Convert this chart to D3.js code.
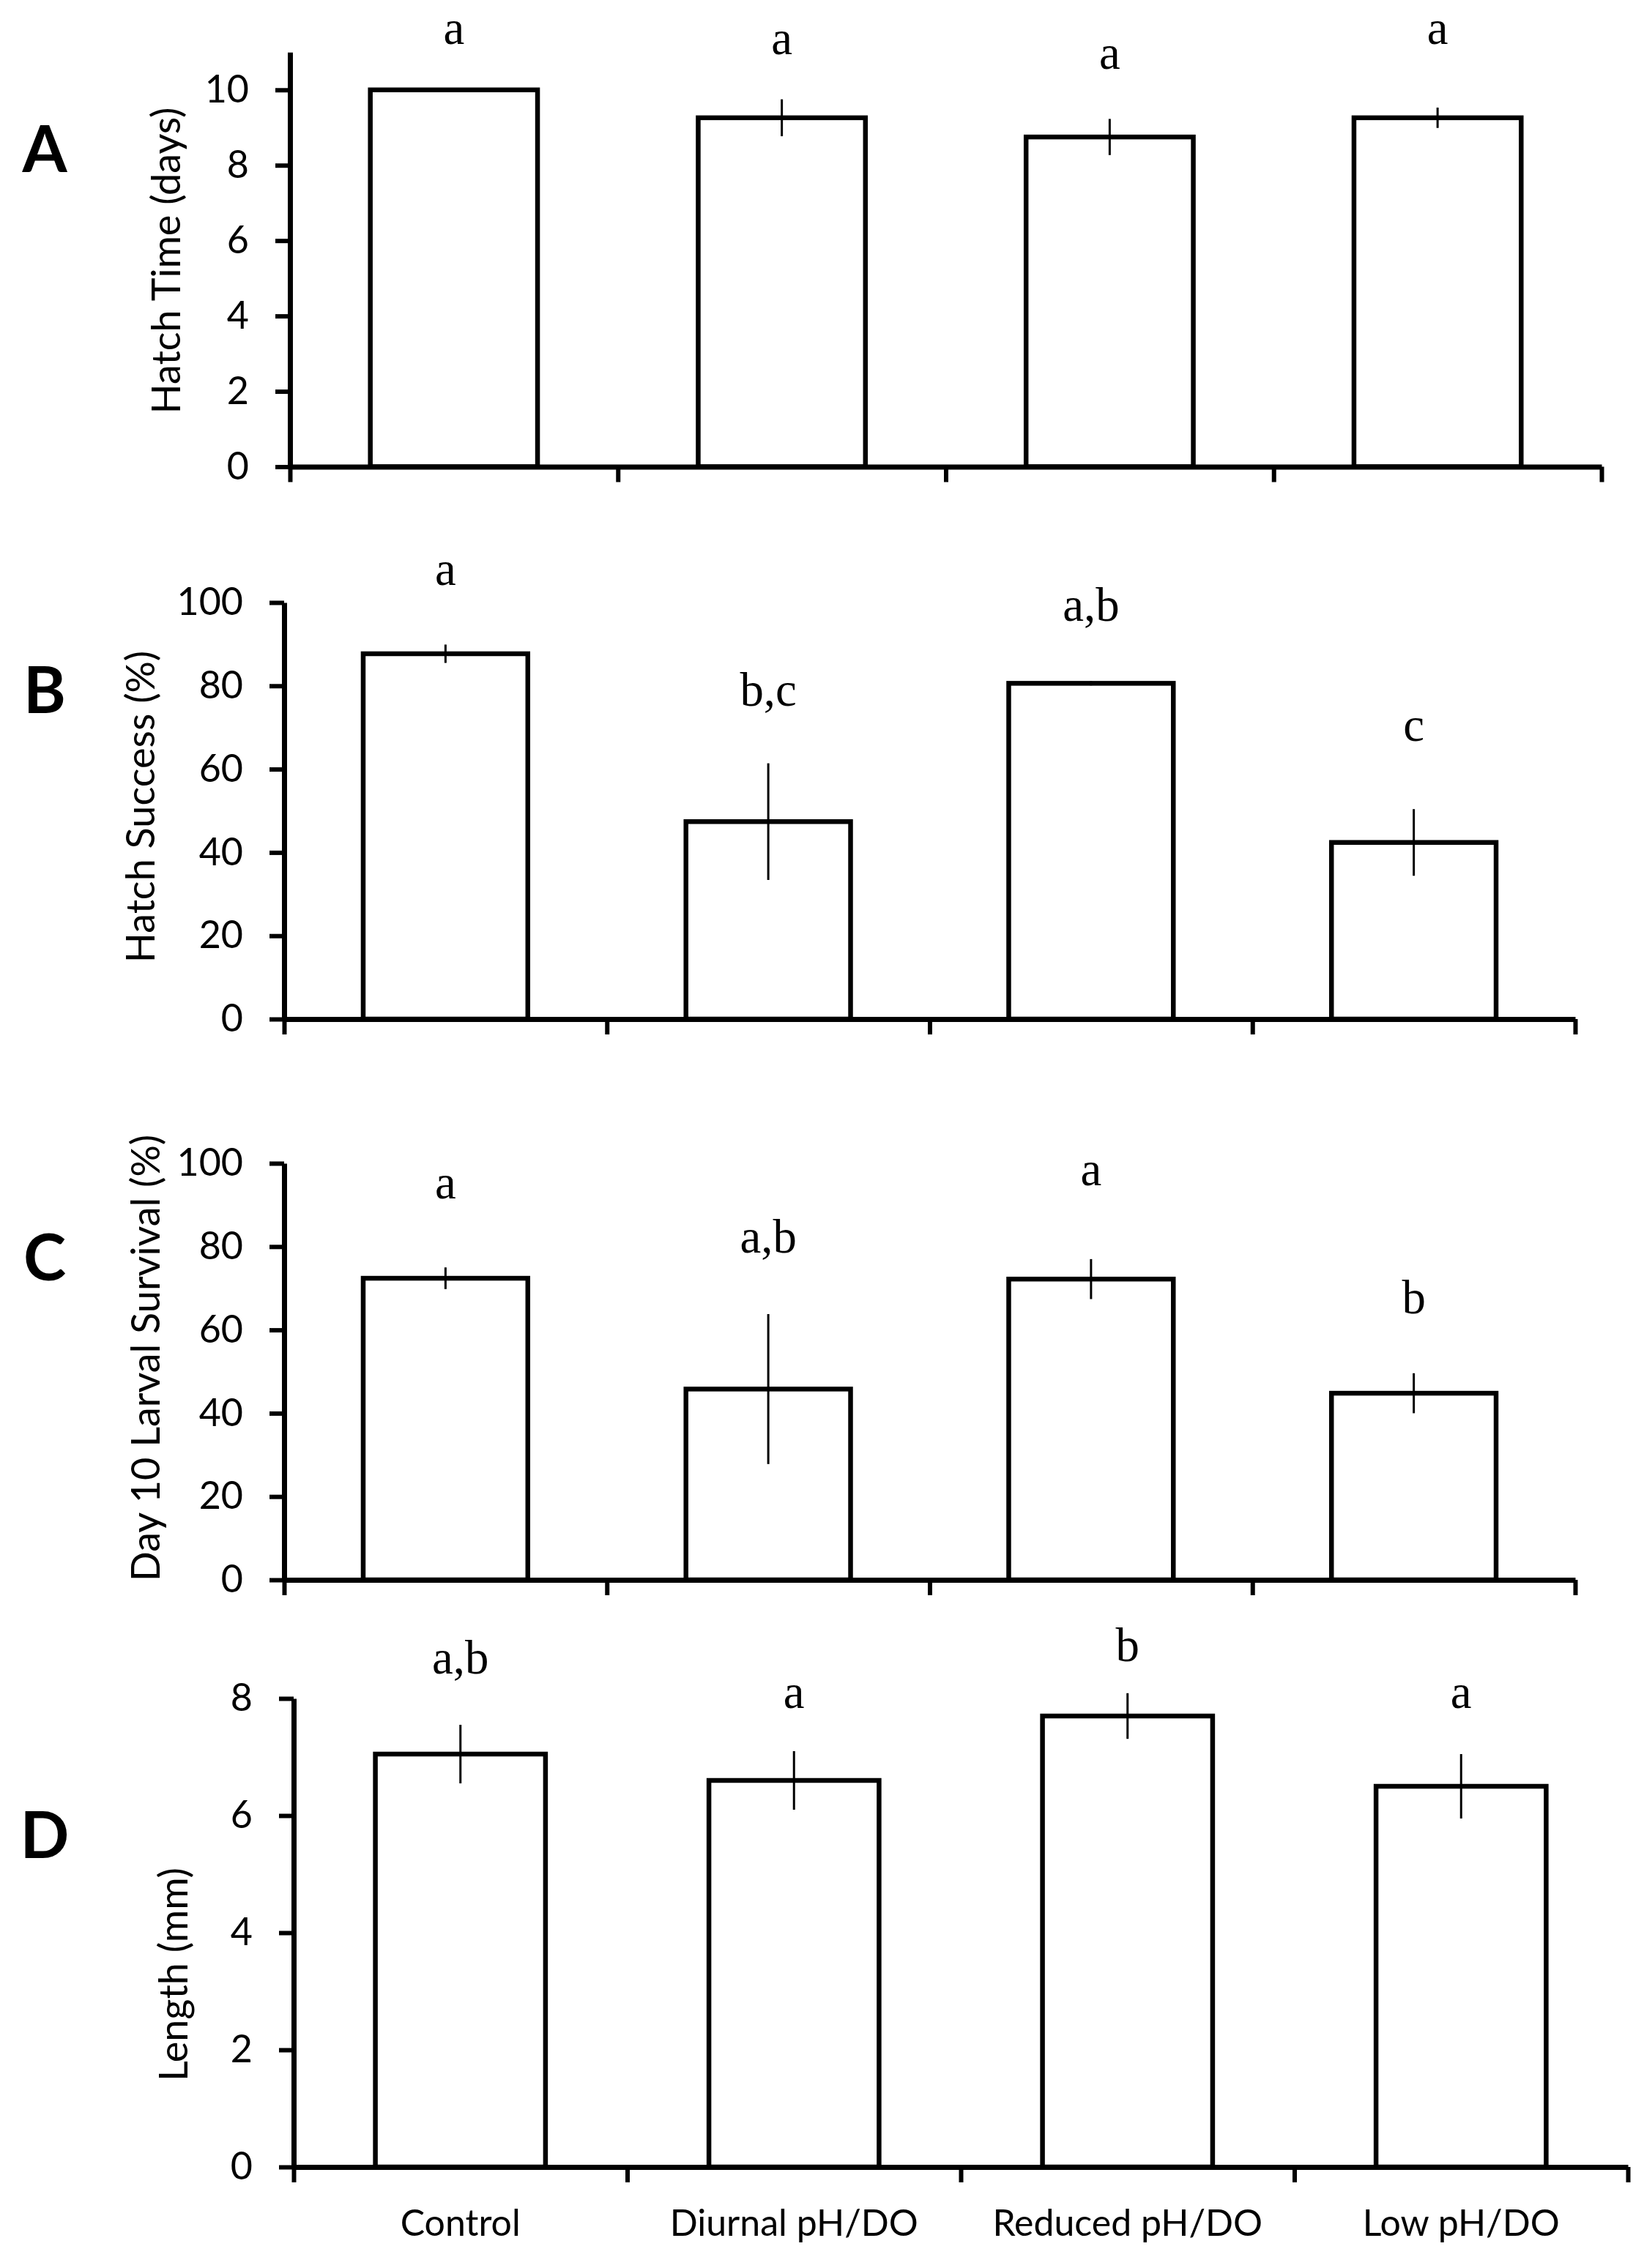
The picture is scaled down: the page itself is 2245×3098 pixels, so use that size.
<!DOCTYPE html>
<html lang="en">
<head>
  <meta charset="UTF-8">
  <title>Hatch and larval results</title>
  <script src="https://d3js.org/d3.v7.min.js"></script>
  <style>
    body { margin: 0; background: #fff; }
    svg { display: block; }
  </style>
</head>
<body>
<div class="main"></div>
<script>

  // categories (shared by all 4 panels)
  const categories = ["Control", "Diurnal pH/DO", "Reduced pH/DO", "Low pH/DO"];

  // A - hatch time (days)
  const hatchTime = [10.0, 9.26, 8.75, 9.26];
  const hatchTimeErr = [0, 0.49, 0.48, 0.27];
  const hatchTimeLetters = ["a", "a", "a", "a"];
  const hatchTimeLetterAt = [11.21, 10.95, 10.55, 11.21];
  const hatchTimeTicks = [0, 2, 4, 6, 8, 10];

  // B - hatch success (%)
  const hatchSuccess = [87.7, 47.4, 80.6, 42.4];
  const hatchSuccessErr = [2.2, 14, 0.5, 8];
  const hatchSuccessLetters = ["a", "b,c", "a,b", "c"];
  const hatchSuccessLetterAt = [104.3, 75.2, 95.6, 66.8];
  const percentTicks = [0, 20, 40, 60, 80, 100];

  // C - day 10 larval survival (%)
  const larvalSurvival = [72.4, 45.8, 72.2, 44.8];
  const larvalSurvivalErr = [2.6, 18, 4.8, 4.8];
  const larvalSurvivalLetters = ["a", "a,b", "a", "b"];
  const larvalSurvivalLetterAt = [91.5, 78.6, 94.8, 63.9];

  // D - length (mm)
  const lengthMm = [7.05, 6.60, 7.70, 6.50];
  const lengthMmErr = [0.5, 0.5, 0.39, 0.55];
  const lengthMmLetters = ["a,b", "a", "b", "a"];
  const lengthMmLetterAt = [8.42, 7.84, 8.64, 7.84];
  const lengthTicks = [0, 2, 4, 6, 8];

  const yMaxes = [11, 100, 100, 8];
  const panelNames = ["A", "B", "C", "D"];
  const yTitles = ["Hatch Time (days)", "Hatch Success (%)", "Day 10 Larval Survival (%)", "Length (mm)"];

  let width = 2245;
  let height = 3098;
  const sans = "Lato, 'Open Sans', sans-serif";
  const serif = "'Liberation Serif', 'DejaVu Serif', serif";

  let svg = d3.select(".main")
          .append("svg")
          .attr("width", width)
          .attr("height", height);

  svg.append("rect").attr("width", width).attr("height", height).attr("fill", "#fff");

  // where each panel sits on the page
  const frames = [
    {left: 396, right: 2187, zero: 637.5, top: 71.3, titleX: 246, titleY: 356, tagY: 201},
    {left: 388, right: 2151, zero: 1392, top: 823, titleX: 211, titleY: 1102, tagY: 940},
    {left: 388, right: 2151, zero: 2158, top: 1589, titleX: 218, titleY: 1855, tagY: 1715},
    {left: 401, right: 2223, zero: 2960, top: 2320, titleX: 256, titleY: 2697, tagY: 2504}
  ];

  const panels = [
    {values: hatchTime, err: hatchTimeErr, letters: hatchTimeLetters, letterAt: hatchTimeLetterAt, ticks: hatchTimeTicks},
    {values: hatchSuccess, err: hatchSuccessErr, letters: hatchSuccessLetters, letterAt: hatchSuccessLetterAt, ticks: percentTicks},
    {values: larvalSurvival, err: larvalSurvivalErr, letters: larvalSurvivalLetters, letterAt: larvalSurvivalLetterAt, ticks: percentTicks},
    {values: lengthMm, err: lengthMmErr, letters: lengthMmLetters, letterAt: lengthMmLetterAt, ticks: lengthTicks}
  ];

  function drawPanel(p, i) {
    let f = frames[i];
    let g = svg.append("g");

    let xScale = d3.scaleBand().domain(categories).range([f.left, f.right]).padding(0);
    let xEdges = d3.scaleLinear().domain([0, categories.length]).range([f.left, f.right]);
    let yScale = d3.scaleLinear().domain([0, yMaxes[i]]).range([f.zero, f.top]);
    let barW = xScale.bandwidth() * 0.51;
    let mid = d => xScale(d.cat) + xScale.bandwidth() / 2;

    let rows = categories.map((c, k) => ({cat: c, v: p.values[k], e: p.err[k], lt: p.letters[k], la: p.letterAt[k]}));

    // bars
    g.selectAll("rect.bar")
            .data(rows)
            .join("rect")
            .attr("class", "bar")
            .attr("x", d => mid(d) - barW / 2)
            .attr("y", d => yScale(d.v))
            .attr("width", barW)
            .attr("height", d => yScale(0) - yScale(d.v))
            .attr("fill", "#fff")
            .attr("stroke", "#000")
            .attr("stroke-width", 6.5);

    // error bars (no caps)
    g.selectAll("line.err")
            .data(rows.filter(d => d.e > 0))
            .join("line")
            .attr("class", "err")
            .attr("x1", mid)
            .attr("x2", mid)
            .attr("y1", d => yScale(d.v + d.e))
            .attr("y2", d => yScale(d.v - d.e))
            .attr("stroke", "#000")
            .attr("stroke-width", 3);

    // significance letters (the original type is a little taller than wide)
    g.selectAll("text.letter")
            .data(rows)
            .join("text")
            .attr("class", "letter")
            .attr("transform", d => `translate(${mid(d)},${yScale(d.la)}) scale(1.08,1.1)`)
            .attr("text-anchor", "middle")
            .style("font-family", serif)
            .style("font-size", "60px")
            .text(d => d.lt);

    // y axis
    let yAxis = d3.axisLeft(yScale)
            .tickValues(p.ticks)
            .tickSize(20)
            .tickSizeOuter(0)
            .tickPadding(36)
            .tickFormat(d3.format("d"));
    let ya = g.append("g").attr("transform", `translate(${f.left},0)`).call(yAxis);
    ya.select(".domain").attr("stroke-width", 7);
    ya.selectAll(".tick line").attr("stroke-width", 6);
    ya.selectAll(".tick text").style("font-family", sans).style("font-size", "52px").attr("fill", "#000");

    // x axis with ticks on category edges
    let xAxis = d3.axisBottom(xEdges)
            .tickValues(d3.range(categories.length + 1))
            .tickSize(21)
            .tickSizeOuter(0)
            .tickFormat("");
    let xa = g.append("g").attr("transform", `translate(0,${f.zero})`).call(xAxis);
    xa.select(".domain").attr("stroke-width", 7);
    xa.selectAll(".tick line").attr("stroke-width", 6);

    // axis title
    g.append("text")
            .attr("transform", `translate(${f.titleX},${f.titleY}) rotate(-90)`)
            .attr("text-anchor", "middle")
            .style("font-family", sans)
            .style("font-size", "54px")
            .text(yTitles[i]);

    // panel tag
    g.append("text")
            .attr("x", 61)
            .attr("y", f.tagY)
            .attr("text-anchor", "middle")
            .attr("dominant-baseline", "central")
            .style("font-family", sans)
            .style("font-weight", "bold")
            .style("font-size", "88px")
            .text(panelNames[i]);

    // category names only under the last panel
    if (i === panels.length - 1) {
      let catAxis = d3.axisBottom(xScale).tickSize(0).tickPadding(58);
      let ca = g.append("g").attr("transform", `translate(0,${f.zero})`).call(catAxis);
      ca.select(".domain").remove();
      ca.selectAll(".tick text").style("font-family", sans).style("font-size", "50px").attr("fill", "#000");
    }
  }

  panels.forEach(drawPanel);

</script>
</body>
</html>
